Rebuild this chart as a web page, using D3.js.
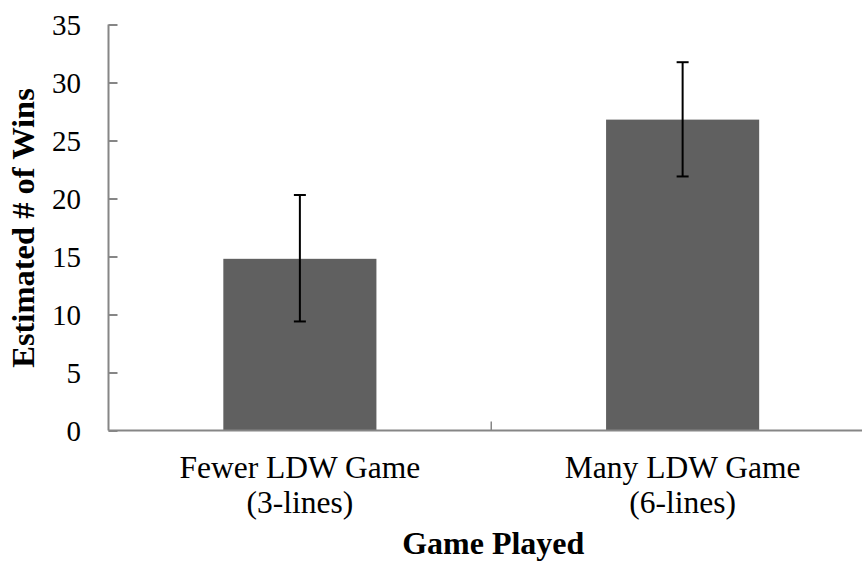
<!DOCTYPE html>
<html>
<head>
<meta charset="utf-8">
<script src="https://cdn.jsdelivr.net/npm/d3@7"></script>
<style>
  html, body { margin: 0; padding: 0; background: #fff; }
  svg { display: block; }
  text { font-family: "Liberation Serif", "Times New Roman", serif; fill: #000; }
</style>
</head>
<body>
<svg id="chart" width="862" height="565"></svg>
<script>
// ---- data ----
const categories = ["Fewer LDW Game|(3-lines)", "Many LDW Game|(6-lines)"];
const means = [14.8, 26.8];
const errUpper = [20.3, 31.75];
const errLower = [9.4, 21.9];
const yTicks = [0, 5, 10, 15, 20, 25, 30, 35];
const yTitle = "Estimated # of Wins";
const xTitle = "Game Played";

// ---- layout ----
const W = 862, H = 565;
const x0 = 108.5, x1 = 874, yBottom = 430.5, yTop = 24.5;
const svg = d3.select("#chart");

const x = d3.scaleBand().domain(categories).range([x0, x1]).paddingInner(0.6).paddingOuter(0.3);
const y = d3.scaleLinear().domain([0, 35]).range([yBottom, yTop]);

const axisColor = "#868686";

// bars
svg.append("g").selectAll("rect").data(categories).join("rect")
  .attr("x", d => x(d))
  .attr("width", x.bandwidth())
  .attr("y", (d, i) => y(means[i]))
  .attr("height", (d, i) => y(0) - y(means[i]))
  .attr("fill", "#606060");

// y axis
const yAxis = d3.axisRight(y).tickValues(yTicks).tickSize(9).tickFormat("");
const gy = svg.append("g").attr("transform", `translate(${x0},0)`).call(yAxis);
gy.select(".domain").attr("stroke", axisColor).attr("stroke-width", 2).attr("d", `M0,${yTop}V${yBottom}`);
gy.selectAll(".tick line").attr("stroke", axisColor).attr("stroke-width", 2);

// y tick labels
svg.append("g").selectAll("text").data(yTicks).join("text")
  .attr("x", 81)
  .attr("y", d => y(d))
  .attr("dy", "0.35em")
  .attr("text-anchor", "end")
  .style("font-size", "29px")
  .text(d => d);

// x axis
const gx = svg.append("g").attr("transform", `translate(0,${yBottom})`);
gx.append("line").attr("x1", x0).attr("x2", W).attr("stroke", axisColor).attr("stroke-width", 2);
// category divider tick
const mid = (x(categories[0]) + x.bandwidth() + x(categories[1])) / 2;
gx.append("line").attr("x1", mid).attr("x2", mid).attr("y1", 0).attr("y2", -9)
  .attr("stroke", axisColor).attr("stroke-width", 1.5);

// error bars
const eb = svg.append("g").attr("stroke", "#000").attr("stroke-width", 2);
categories.forEach((c, i) => {
  const cx = x(c) + x.bandwidth() / 2;
  eb.append("line").attr("x1", cx).attr("x2", cx).attr("y1", y(errUpper[i])).attr("y2", y(errLower[i]));
  eb.append("line").attr("x1", cx - 6).attr("x2", cx + 6).attr("y1", y(errUpper[i])).attr("y2", y(errUpper[i]));
  eb.append("line").attr("x1", cx - 6).attr("x2", cx + 6).attr("y1", y(errLower[i])).attr("y2", y(errLower[i]));
});

// category labels
categories.forEach(c => {
  const cx = x(c) + x.bandwidth() / 2;
  const lines = c.split("|");
  lines.forEach((l, j) => {
    svg.append("text").attr("x", cx).attr("y", 478 + j * 35)
      .attr("text-anchor", "middle").style("font-size", "31.5px").text(l);
  });
});

// axis titles
svg.append("text").attr("x", (x0 + x1) / 2 + 2).attr("y", 554)
  .attr("text-anchor", "middle").style("font-size", "32px").style("font-weight", "bold").text(xTitle);
svg.append("text").attr("transform", `translate(34,${228}) rotate(-90)`)
  .attr("text-anchor", "middle").style("font-size", "32.5px").style("font-weight", "bold").text(yTitle);
</script>
</body>
</html>
